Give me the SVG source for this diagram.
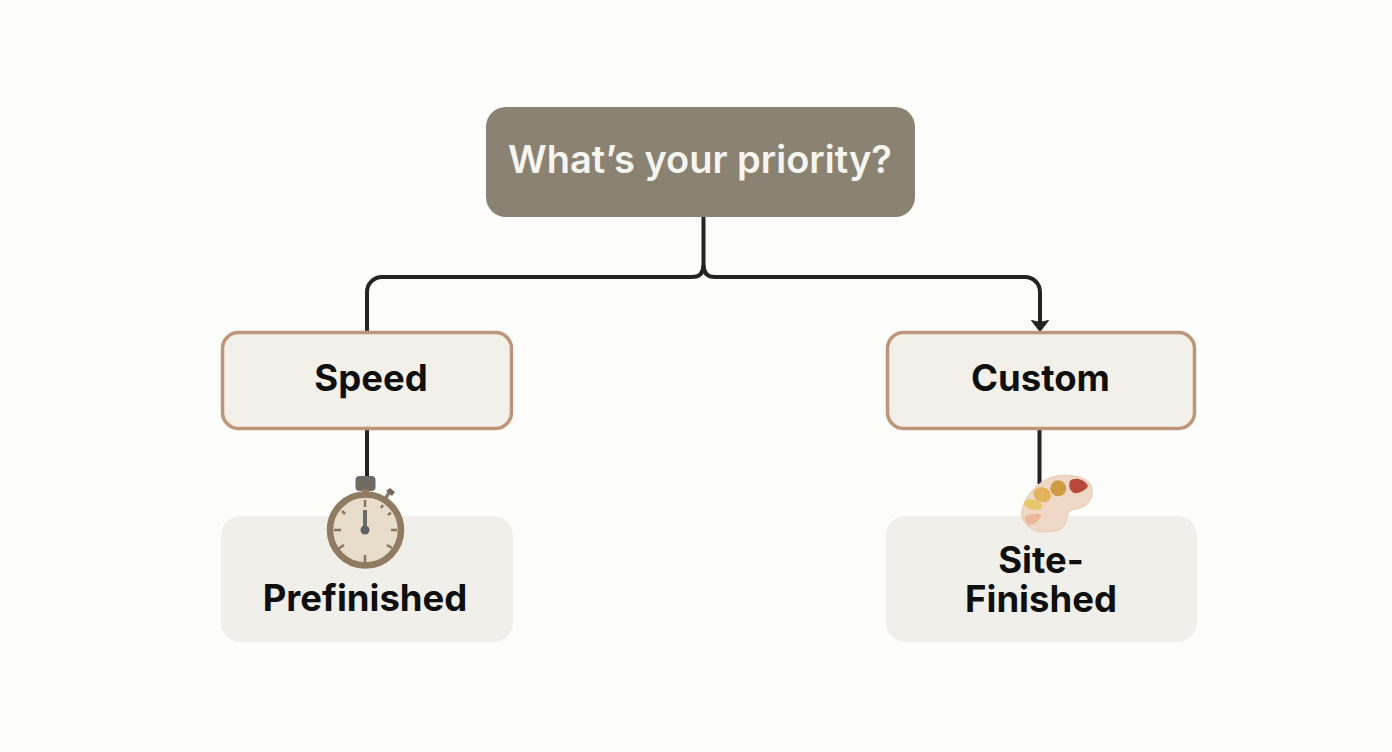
<svg xmlns="http://www.w3.org/2000/svg" width="1392" height="752" viewBox="0 0 1392 752">
<style>
text{font-family:"Inter","Liberation Sans",sans-serif;font-weight:700;text-anchor:middle;fill:#0f0f0f;font-size:36.500px}
.opt{fill:#f3f0ea;stroke:#bd9679;stroke-width:3.500}
.res{fill:#f1efea}
.line{fill:none;stroke:#232323;stroke-width:4}
.tick{stroke:#8a7560;stroke-width:2.500;fill:none}
</style>
<rect width="1392" height="752" fill="#fdfdfc"/>
<g id="connectors">
<path class="line" d="M703.500 216V265Q703.500 277 692 277H382A15 15 0 0 0 367 292V332"/>
<path class="line" d="M703.500 265Q703.500 277 715 277H1024A15 15 0 0 1 1040 292V324"/>
<path d="M1031.500 320.500L1040 322.500L1048.500 320.500L1040 331.500Z" fill="#232323" stroke="#232323" stroke-width="1" stroke-linejoin="round"/>
<path class="line" d="M367 429V478"/>
<path class="line" d="M1039.500 429V484"/>
</g>
<g id="priority">
<rect x="486" y="107" width="429" height="110" rx="20" fill="#8a8272"/>
<text x="700" y="173" style="font-size:38px;font-weight:600;fill:#f7f5f0">What’s your priority?</text>
</g>
<g id="speed">
<rect class="opt" x="222.500" y="332.500" width="289" height="96" rx="16"/>
<text x="371" y="391">Speed</text>
</g>
<g id="custom">
<rect class="opt" x="887.500" y="332.500" width="307" height="96" rx="16"/>
<text x="1040.500" y="391">Custom</text>
</g>
<g id="prefinished">
<rect class="res" x="221" y="516" width="292" height="126" rx="20"/>
<text x="365" y="611">Prefinished</text>
</g>
<g id="site-finished">
<rect class="res" x="886" y="516" width="311" height="126" rx="20"/>
<text y="573"><tspan x="1041">Site-</tspan><tspan x="1041" dy="38.500">Finished</tspan></text>
</g>
<g id="stopwatch">
<rect x="355.500" y="476" width="20" height="15" rx="4" fill="#6f6a64"/>
<rect x="362" y="489" width="7" height="6" fill="#8f7a62"/>
<path d="M385 499L389 493" stroke="#8f7a62" stroke-width="3.500"/>
<path d="M386 491L390 488L395 492L392 496Z" fill="#6f6a64"/>
<circle cx="365.500" cy="530" r="35.500" fill="#e8dccb" stroke="#8f7a62" stroke-width="6.500"/>
<path class="tick" d="M365 500V507M365 555V563M334 530H341M391 530H397M342 511L345 514M388 515L391 512.700M381 508L383 505M338 549L344 545M387 545L392 548"/>
<path d="M365 510V530" stroke="#6a6a6a" stroke-width="4"/>
<circle cx="365" cy="530" r="4.500" fill="#5f6266"/>
</g>
<g id="palette">
<path d="M1050 478C1058 475 1064 475 1070 475.700C1080 476 1090 480 1091.700 486.700C1093 493 1092 497 1090 500C1087 506 1082 508 1075 509C1069 510 1067.500 513 1067 518C1066 524 1062 529 1058 530C1052 532 1046 532 1040 531.700C1033 530 1028 527 1025 523C1022 519 1021 514 1022 510C1024 502 1028 495 1033 490C1038 484 1044 480 1050 478Z" fill="#f0d8c6" stroke="#e6c8b0"/>
<path d="M1070 481C1074 477 1084 478 1088 486C1086 490 1079 494 1074 493C1070 491 1068 486 1070 481Z" fill="#b8493a"/>
<ellipse cx="1058.300" cy="488.300" rx="8" ry="8" fill="#cf9b45"/>
<ellipse cx="1042.300" cy="494.700" rx="9" ry="7.500" fill="#e3b45f" transform="rotate(20 1042.300 494.700)"/>
<ellipse cx="1033" cy="504.700" rx="9.500" ry="5" fill="#e8c76b" transform="rotate(15 1033 504.700)"/>
<path d="M1025 516.500C1030 513 1040 513 1041 515C1041 520 1034 525 1029 525C1026 523 1024 519 1025 516.500Z" fill="#ecb89c"/>
</g>
</svg>
